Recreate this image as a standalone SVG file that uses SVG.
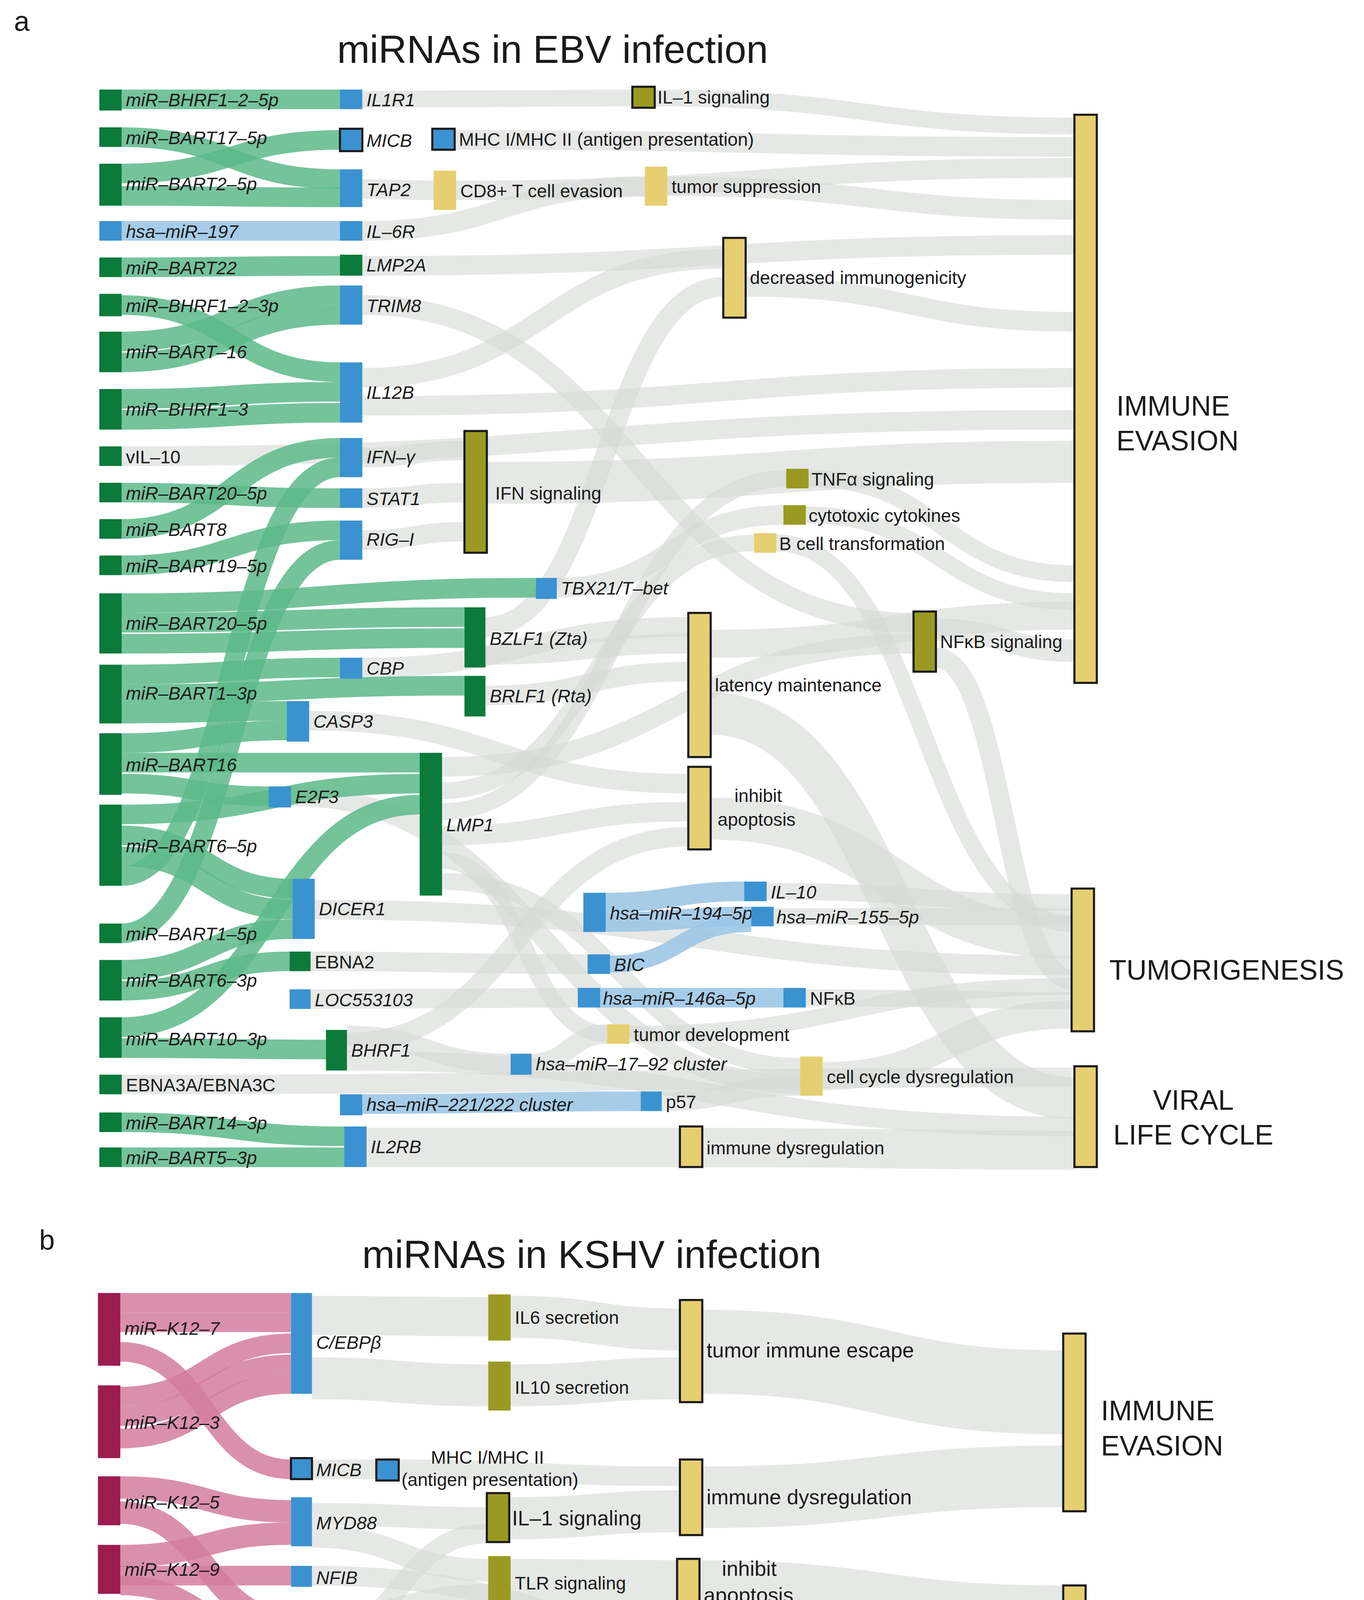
<svg xmlns="http://www.w3.org/2000/svg" width="3491" height="5635" viewBox="0 0 3491 5635">
<style>
text{font-family:"Liberation Sans",Arial,sans-serif;fill:#1a1a1a}
.t{font-size:13px;font-style:italic}
.n{font-size:13px}
.f{font-size:20px}
.h{font-size:28px}
.lg{font-size:16px}
path{fill:none}
.g{stroke:#d5d8d5;stroke-opacity:.6}
.e{stroke:#5cb88a;stroke-opacity:.85}
.k{stroke:#d47c9e;stroke-opacity:.85}
.b{stroke:#9cc6e6;stroke-opacity:.9}
.EG{fill:#0b7a3b}.KG{fill:#9c1c50}.HG{fill:#3b92d0}.SP{fill:#9a9a22}.PH{fill:#e6cf70}
.s{stroke:#1a1a1a;stroke-width:1.5}
</style>
<rect width="3491" height="5635" fill="#fff"/>
<g transform="scale(3.5805,3.5823)">
<text x="10" y="22" class="f">a</text>
<text x="395" y="45" class="h" text-anchor="middle">miRNAs in EBV infection</text>
<g id="links-a">
<path class="g" stroke-width="12" d="M259 71C355 71 355 70 452 70"/>
<path class="g" stroke-width="12" d="M468 70C618 70 618 90 768 90"/>
<path class="g" stroke-width="14" d="M325 100C546 100 546 105 768 105"/>
<path class="g" stroke-width="14" d="M259 135C285 135 285 136 310 136"/>
<path class="g" stroke-width="14" d="M326 136C547 136 547 120 768 120"/>
<path class="g" stroke-width="14" d="M259 165C360 165 360 133 461 133"/>
<path class="g" stroke-width="14" d="M477 133C622 133 622 150 768 150"/>
<path class="g" stroke-width="14" d="M259 190C513 190 513 175 768 175"/>
<path class="g" stroke-width="14" d="M259 218C456 218 456 445 653 445"/>
<path class="g" stroke-width="14" d="M259 270C388 270 388 185 517 185"/>
<path class="g" stroke-width="14" d="M259 290C513 290 513 270 768 270"/>
<path class="g" stroke-width="14" d="M87 326C428 326 428 300 768 300"/>
<path class="g" stroke-width="14" d="M259 327C296 327 296 322 332 322"/>
<path class="g" stroke-width="14" d="M259 356C296 356 296 352 332 352"/>
<path class="g" stroke-width="14" d="M259 386C296 386 296 380 332 380"/>
<path class="g" stroke-width="30" d="M348 345C558 345 558 330 768 330"/>
<path class="g" stroke-width="14" d="M398 420C479 420 479 368 560 368"/>
<path class="g" stroke-width="12" d="M578 342C673 342 673 410 768 410"/>
<path class="g" stroke-width="12" d="M576 368C672 368 672 430 768 430"/>
<path class="g" stroke-width="12" d="M555 388C660 388 660 660 766 660"/>
<path class="g" stroke-width="14" d="M347 448C432 448 432 205 517 205"/>
<path class="g" stroke-width="14" d="M533 205C650 205 650 230 768 230"/>
<path class="g" stroke-width="14" d="M347 468C420 468 420 460 492 460"/>
<path class="g" stroke-width="14" d="M259 477C375 477 375 448 492 448"/>
<path class="g" stroke-width="14" d="M347 497C420 497 420 480 492 480"/>
<path class="g" stroke-width="14" d="M316 548C485 548 485 460 653 460"/>
<path class="g" stroke-width="12" d="M316 565C428 565 428 388 539 388"/>
<path class="g" stroke-width="12" d="M316 580C439 580 439 342 562 342"/>
<path class="g" stroke-width="14" d="M316 597C404 597 404 580 492 580"/>
<path class="g" stroke-width="12" d="M316 615C375 615 375 739 434 739"/>
<path class="g" stroke-width="12" d="M316 630C444 630 444 762 572 762"/>
<path class="g" stroke-width="16" d="M669 450C718 450 718 465 768 465"/>
<path class="g" stroke-width="14" d="M669 470C718 470 718 700 766 700"/>
<path class="g" stroke-width="30" d="M508 510C638 510 638 785 768 785"/>
<path class="g" stroke-width="20" d="M508 460C638 460 638 440 768 440"/>
<path class="g" stroke-width="30" d="M508 585C637 585 637 670 766 670"/>
<path class="g" stroke-width="14" d="M221 515C356 515 356 560 492 560"/>
<path class="g" stroke-width="14" d="M208 569C390 569 390 775 572 775"/>
<path class="g" stroke-width="14" d="M225 650C496 650 496 690 766 690"/>
<path class="g" stroke-width="14" d="M222 687C321 687 321 689 420 689"/>
<path class="g" stroke-width="14" d="M222 714C318 714 318 713 413 713"/>
<path class="g" stroke-width="14" d="M248 745C370 745 370 598 492 598"/>
<path class="g" stroke-width="14" d="M248 758C508 758 508 805 768 805"/>
<path class="g" stroke-width="14" d="M248 740C306 740 306 760 365 760"/>
<path class="g" stroke-width="14" d="M380 760C407 760 407 739 434 739"/>
<path class="g" stroke-width="28" d="M262 820C374 820 374 820 486 820"/>
<path class="g" stroke-width="28" d="M502 820C635 820 635 822 768 822"/>
<path class="g" stroke-width="12" d="M548 637C657 637 657 645 766 645"/>
<path class="g" stroke-width="12" d="M553 655C660 655 660 655 766 655"/>
<path class="g" stroke-width="12" d="M576 713C671 713 671 715 766 715"/>
<path class="g" stroke-width="14" d="M473 787C522 787 522 776 572 776"/>
<path class="g" stroke-width="20" d="M588 769C677 769 677 725 766 725"/>
<path class="g" stroke-width="12" d="M450 739C608 739 608 705 766 705"/>
<path class="g" stroke-width="14" d="M87 775C426 775 426 770 766 770"/>
<path class="e" stroke-width="14" d="M87 71H243"/>
<path class="e" stroke-width="14" d="M87 98C165 98 165 128 243 128"/>
<path class="e" stroke-width="14" d="M87 124C165 124 165 100 243 100"/>
<path class="e" stroke-width="14" d="M87 140C165 140 165 141 243 141"/>
<path class="b" stroke-width="14" d="M87 165H243"/>
<path class="e" stroke-width="14" d="M87 191C165 191 165 190 243 190"/>
<path class="e" stroke-width="14" d="M87 218C165 218 165 266 243 266"/>
<path class="e" stroke-width="14" d="M87 244C165 244 165 211 243 211"/>
<path class="e" stroke-width="14" d="M87 259C165 259 165 225 243 225"/>
<path class="e" stroke-width="14" d="M87 285C165 285 165 280 243 280"/>
<path class="e" stroke-width="14" d="M87 300C165 300 165 295 243 295"/>
<path class="e" stroke-width="14" d="M87 352C165 352 165 356 243 356"/>
<path class="e" stroke-width="14" d="M87 378C165 378 165 320 243 320"/>
<path class="e" stroke-width="14" d="M87 404C165 404 165 379 243 379"/>
<path class="e" stroke-width="14" d="M87 431C235 431 235 420 383 420"/>
<path class="e" stroke-width="14" d="M87 445C210 445 210 441 332 441"/>
<path class="e" stroke-width="14" d="M87 460C210 460 210 456 332 456"/>
<path class="e" stroke-width="14" d="M87 482C165 482 165 477 243 477"/>
<path class="e" stroke-width="14" d="M87 496C210 496 210 490 332 490"/>
<path class="e" stroke-width="14" d="M87 510C146 510 146 508 205 508"/>
<path class="e" stroke-width="14" d="M87 531C146 531 146 522 205 522"/>
<path class="e" stroke-width="14" d="M87 545C194 545 194 545 300 545"/>
<path class="e" stroke-width="14" d="M87 560C140 560 140 569 192 569"/>
<path class="e" stroke-width="14" d="M87 582C194 582 194 560 300 560"/>
<path class="e" stroke-width="14" d="M87 597C148 597 148 635 209 635"/>
<path class="e" stroke-width="14" d="M87 612C148 612 148 650 209 650"/>
<path class="e" stroke-width="14" d="M87 626C165 626 165 334 243 334"/>
<path class="e" stroke-width="14" d="M87 667C165 667 165 393 243 393"/>
<path class="e" stroke-width="14" d="M87 693C148 693 148 664 209 664"/>
<path class="e" stroke-width="14" d="M87 708C147 708 147 687 207 687"/>
<path class="e" stroke-width="14" d="M87 734C194 734 194 575 300 575"/>
<path class="e" stroke-width="14" d="M87 749C160 749 160 750 233 750"/>
<path class="e" stroke-width="14" d="M87 802C166 802 166 812 246 812"/>
<path class="e" stroke-width="14" d="M87 827C166 827 166 827 246 827"/>
<path class="b" stroke-width="14" d="M259 789C358 789 358 787 458 787"/>
<path class="b" stroke-width="14" d="M433 645C482 645 482 637 532 637"/>
<path class="b" stroke-width="14" d="M433 659C485 659 485 655 537 655"/>
<path class="b" stroke-width="12" d="M436 689C486 689 486 660 537 660"/>
<path class="b" stroke-width="14" d="M429 713C494 713 494 713 560 713"/>
</g>
<g id="nodes-a">
<g id="a1"><rect class="EG" x="71" y="64" width="16" height="15"/><text class="t" x="90" y="76">miR–BHRF1–2–5p</text></g>
<g id="a2"><rect class="EG" x="71" y="91" width="16" height="14"/><text class="t" x="90" y="103">miR–BART17–5p</text></g>
<g id="a3"><rect class="EG" x="71" y="117" width="16" height="30"/><text class="t" x="90" y="136">miR–BART2–5p</text></g>
<g id="a4"><rect class="HG" x="71" y="158" width="16" height="14"/><text class="t" x="90" y="170">hsa–miR–197</text></g>
<g id="a5"><rect class="EG" x="71" y="184" width="16" height="14"/><text class="t" x="90" y="196">miR–BART22</text></g>
<g id="a6"><rect class="EG" x="71" y="210" width="16" height="16"/><text class="t" x="90" y="223">miR–BHRF1–2–3p</text></g>
<g id="a7"><rect class="EG" x="71" y="237" width="16" height="29"/><text class="t" x="90" y="256">miR–BART–16</text></g>
<g id="a8"><rect class="EG" x="71" y="278" width="16" height="29"/><text class="t" x="90" y="297">miR–BHRF1–3</text></g>
<g id="a9"><rect class="EG" x="71" y="319" width="16" height="14"/><text class="n" x="90" y="331">vIL–10</text></g>
<g id="a10"><rect class="EG" x="71" y="345" width="16" height="14"/><text class="t" x="90" y="357">miR–BART20–5p</text></g>
<g id="a11"><rect class="EG" x="71" y="371" width="16" height="14"/><text class="t" x="90" y="383">miR–BART8</text></g>
<g id="a12"><rect class="EG" x="71" y="397" width="16" height="14"/><text class="t" x="90" y="409">miR–BART19–5p</text></g>
<g id="a13"><rect class="EG" x="71" y="424" width="16" height="43"/><text class="t" x="90" y="450">miR–BART20–5p</text></g>
<g id="a14"><rect class="EG" x="71" y="475" width="16" height="42"/><text class="t" x="90" y="500">miR–BART1–3p</text></g>
<g id="a15"><rect class="EG" x="71" y="524" width="16" height="44"/><text class="t" x="90" y="551">miR–BART16</text></g>
<g id="a16"><rect class="EG" x="71" y="575" width="16" height="58"/><text class="t" x="90" y="609">miR–BART6–5p</text></g>
<g id="a17"><rect class="EG" x="71" y="660" width="16" height="14"/><text class="t" x="90" y="672">miR–BART1–5p</text></g>
<g id="a18"><rect class="EG" x="71" y="686" width="16" height="29"/><text class="t" x="90" y="705">miR–BART6–3p</text></g>
<g id="a19"><rect class="EG" x="71" y="727" width="16" height="29"/><text class="t" x="90" y="747">miR–BART10–3p</text></g>
<g id="a20"><rect class="EG" x="71" y="768" width="16" height="14"/><text class="n" x="90" y="780">EBNA3A/EBNA3C</text></g>
<g id="a21"><rect class="EG" x="71" y="795" width="16" height="14"/><text class="t" x="90" y="807">miR–BART14–3p</text></g>
<g id="a22"><rect class="EG" x="71" y="820" width="16" height="14"/><text class="t" x="90" y="832">miR–BART5–3p</text></g>

<g id="IL1R1"><rect class="HG" x="243" y="64" width="16" height="14"/><text class="t" x="262" y="76">IL1R1</text></g>
<g id="MICBa"><rect class="HG s" x="243" y="92" width="16" height="16"/><text class="t" x="262" y="105">MICB</text></g>
<g id="TAP2"><rect class="HG" x="243" y="121" width="16" height="27"/><text class="t" x="262" y="140">TAP2</text></g>
<g id="IL6R"><rect class="HG" x="243" y="158" width="16" height="14"/><text class="t" x="262" y="170">IL–6R</text></g>
<g id="LMP2A"><rect class="EG" x="243" y="182" width="16" height="15"/><text class="t" x="262" y="194">LMP2A</text></g>
<g id="TRIM8"><rect class="HG" x="243" y="204" width="16" height="28"/><text class="t" x="262" y="223">TRIM8</text></g>
<g id="IL12B"><rect class="HG" x="243" y="259" width="16" height="43"/><text class="t" x="262" y="285">IL12B</text></g>
<g id="IFNg"><rect class="HG" x="243" y="313" width="16" height="28"/><text class="t" x="262" y="331">IFN–γ</text></g>
<g id="STAT1"><rect class="HG" x="243" y="349" width="16" height="14"/><text class="t" x="262" y="361">STAT1</text></g>
<g id="RIGI"><rect class="HG" x="243" y="372" width="16" height="28"/><text class="t" x="262" y="390">RIG–I</text></g>
<g id="TBX21"><rect class="HG" x="383" y="413" width="15" height="15"/><text class="t" x="401" y="425">TBX21/T–bet</text></g>
<g id="BZLF1"><rect class="EG" x="332" y="434" width="15" height="43"/><text class="t" x="350" y="461">BZLF1 (Zta)</text></g>
<g id="CBP"><rect class="HG" x="243" y="470" width="16" height="15"/><text class="t" x="262" y="482">CBP</text></g>
<g id="BRLF1"><rect class="EG" x="332" y="483" width="15" height="29"/><text class="t" x="350" y="502">BRLF1 (Rta)</text></g>
<g id="CASP3"><rect class="HG" x="205" y="501" width="16" height="29"/><text class="t" x="224" y="520">CASP3</text></g>
<g id="E2F3"><rect class="HG" x="192" y="562" width="16" height="15"/><text class="t" x="211" y="574">E2F3</text></g>
<g id="LMP1"><rect class="EG" x="300" y="538" width="16" height="102"/><text class="t" x="319" y="594">LMP1</text></g>
<g id="DICER1"><rect class="HG" x="209" y="628" width="16" height="43"/><text class="t" x="228" y="654">DICER1</text></g>
<g id="EBNA2"><rect class="EG" x="207" y="680" width="15" height="14"/><text class="n" x="225" y="692">EBNA2</text></g>
<g id="LOC"><rect class="HG" x="207" y="707" width="15" height="14"/><text class="t" x="225" y="719">LOC553103</text></g>
<g id="BHRF1"><rect class="EG" x="233" y="736" width="15" height="29"/><text class="t" x="251" y="755">BHRF1</text></g>
<g id="c221"><rect class="HG" x="243" y="782" width="16" height="15"/><text class="t" x="262" y="794">hsa–miR–221/222 cluster</text></g>
<g id="IL2RB"><rect class="HG" x="246" y="805" width="16" height="29"/><text class="t" x="265" y="824">IL2RB</text></g>
<g id="p57"><rect class="HG" x="458" y="780" width="15" height="14"/><text class="n" x="476" y="792">p57</text></g>
<g id="m1792"><rect class="HG" x="365" y="753" width="15" height="15"/><text class="t" x="383" y="765">hsa–miR–17–92 cluster</text></g>
<g id="m194"><rect class="HG" x="417" y="638" width="16" height="28"/><text class="t" x="436" y="657">hsa–miR–194–5p</text></g>
<g id="IL10"><rect class="HG" x="532" y="630" width="16" height="14"/><text class="t" x="551" y="642">IL–10</text></g>
<g id="m155"><rect class="HG" x="537" y="648" width="16" height="14"/><text class="t" x="555" y="660">hsa–miR–155–5p</text></g>
<g id="BIC"><rect class="HG" x="420" y="682" width="16" height="14"/><text class="t" x="439" y="694">BIC</text></g>
<g id="m146"><rect class="HG" x="413" y="706" width="16" height="14"/><text class="t" x="431" y="718">hsa–miR–146a–5p</text></g>
<g id="NFkB"><rect class="HG" x="560" y="706" width="16" height="14"/><text class="n" x="579" y="718">NFκB</text></g>
<g id="IL1s"><rect class="SP s" x="452" y="62" width="16" height="15"/><text class="n" x="470" y="74">IL–1 signaling</text></g>
<g id="MHCa"><rect class="HG s" x="309" y="92" width="16" height="15"/><text class="n" x="328" y="104">MHC I/MHC II (antigen presentation)</text></g>
<g id="CD8"><rect class="PH" x="310" y="122" width="16" height="28"/><text class="n" x="329" y="141">CD8+ T cell evasion</text></g>
<g id="tsup"><rect class="PH" x="461" y="119" width="16" height="28"/><text class="n" x="480" y="138">tumor suppression</text></g>
<g id="decimm"><rect class="PH s" x="517" y="170" width="16" height="57"/><text class="n" x="536" y="203">decreased immunogenicity</text></g>
<g id="IFNs"><rect class="SP s" x="332" y="308" width="16" height="87"/><text class="n" x="354" y="357">IFN signaling</text></g>
<g id="TNF"><rect class="SP" x="562" y="335" width="16" height="14"/><text class="n" x="580" y="347">TNFα signaling</text></g>
<g id="cyto"><rect class="SP" x="560" y="361" width="16" height="14"/><text class="n" x="578" y="373">cytotoxic cytokines</text></g>
<g id="Bcell"><rect class="PH" x="539" y="381" width="16" height="14"/><text class="n" x="557" y="393">B cell transformation</text></g>
<g id="NFkBs"><rect class="SP s" x="653" y="437" width="16" height="43"/><text class="n" x="672" y="463">NFκB signaling</text></g>
<g id="latm"><rect class="PH s" x="492" y="438" width="16" height="103"/><text class="n" x="511" y="494">latency maintenance</text></g>
<g id="inap"><rect class="PH s" x="492" y="548" width="16" height="59"/><text class="n" x="525" y="573">inhibit</text><text class="n" x="513" y="590">apoptosis</text></g>
<g id="tdev"><rect class="PH" x="434" y="732" width="16" height="14"/><text class="n" x="453" y="744">tumor development</text></g>
<g id="ccd"><rect class="PH" x="572" y="755" width="16" height="28"/><text class="n" x="591" y="774">cell cycle dysregulation</text></g>
<g id="imd"><rect class="PH s" x="486" y="805" width="16" height="29"/><text class="n" x="505" y="825">immune dysregulation</text></g>
<g id="IEa"><rect class="PH s" x="768" y="82" width="16" height="406"/><text class="f" x="798" y="297">IMMUNE</text><text class="f" x="798" y="322">EVASION</text></g>
<g id="TUa"><rect class="PH s" x="766" y="635" width="16" height="102"/><text class="f" x="793" y="700">TUMORIGENESIS</text></g>
<g id="VLa"><rect class="PH s" x="768" y="762" width="16" height="72"/><text class="f" x="853" y="793" text-anchor="middle">VIRAL</text><text class="f" x="853" y="818" text-anchor="middle">LIFE CYCLE</text></g>
</g>

<text x="28" y="893" class="f">b</text>
<text x="423" y="906" class="h" text-anchor="middle">miRNAs in KSHV infection</text>
<g id="links-b">
<path class="g" stroke-width="28" d="M223 940C286 940 286 941 349 941"/>
<path class="g" stroke-width="30" d="M223 985C286 985 286 990 349 990"/>
<path class="g" stroke-width="30" d="M365 941C426 941 426 950 486 950"/>
<path class="g" stroke-width="30" d="M365 990C426 990 426 985 486 985"/>
<path class="g" stroke-width="60" d="M502 966C631 966 631 995 760 995"/>
<path class="g" stroke-width="14" d="M223 1050C246 1050 246 1050 269 1050"/>
<path class="g" stroke-width="14" d="M285 1050C386 1050 386 1055 486 1055"/>
<path class="g" stroke-width="44" d="M502 1070C631 1070 631 1055 760 1055"/>
<path class="g" stroke-width="16" d="M223 1082C286 1082 286 1085 348 1085"/>
<path class="g" stroke-width="16" d="M223 1098C286 1098 286 1122 349 1122"/>
<path class="g" stroke-width="16" d="M223 1158C286 1158 286 1140 349 1140"/>
<path class="g" stroke-width="14" d="M223 1172C286 1172 286 1096 348 1096"/>
<path class="g" stroke-width="14" d="M223 1126C405 1126 405 1185 587 1185"/>
<path class="g" stroke-width="30" d="M364 1085C425 1085 425 1080 486 1080"/>
<path class="g" stroke-width="34" d="M365 1131C425 1131 425 1132 484 1132"/>
<path class="g" stroke-width="34" d="M500 1132C630 1132 630 1150 760 1150"/>
<path class="g" stroke-width="14" d="M364 1176C476 1176 476 1174 587 1174"/>
<path class="g" stroke-width="14" d="M362 1251C422 1251 422 1213 482 1213"/>
<path class="g" stroke-width="14" d="M497 1213C542 1213 542 1207 587 1207"/>
<path class="g" stroke-width="50" d="M603 1193C682 1193 682 1192 760 1192"/>
<path class="g" stroke-width="14" d="M86 1222C146 1222 146 1222 207 1222"/>
<path class="g" stroke-width="14" d="M86 1240C216 1240 216 1380 346 1380"/>
<path class="g" stroke-width="14" d="M222 1222C491 1222 491 1225 760 1225"/>
<path class="g" stroke-width="14" d="M84 1273C145 1273 145 1273 205 1273"/>
<path class="g" stroke-width="14" d="M221 1273C284 1273 284 1273 346 1273"/>
<path class="g" stroke-width="14" d="M362 1273C561 1273 561 1240 760 1240"/>
<path class="g" stroke-width="50" d="M362 1330C492 1330 492 1328 622 1328"/>
<path class="g" stroke-width="14" d="M223 1364C285 1364 285 1375 346 1375"/>
<path class="g" stroke-width="14" d="M223 1393C285 1393 285 1393 346 1393"/>
<path class="g" stroke-width="16" d="M362 1380C492 1380 492 1365 622 1365"/>
<path class="g" stroke-width="16" d="M362 1395C423 1395 423 1393 484 1393"/>
<path class="g" stroke-width="16" d="M500 1393C561 1393 561 1388 622 1388"/>
<path class="g" stroke-width="90" d="M638 1349C699 1349 699 1348 760 1348"/>
<path class="k" stroke-width="14" d="M86 931C147 931 147 931 208 931"/>
<path class="k" stroke-width="14" d="M86 945C147 945 147 945 208 945"/>
<path class="k" stroke-width="14" d="M86 966C147 966 147 1050 208 1050"/>
<path class="k" stroke-width="14" d="M86 998C147 998 147 960 208 960"/>
<path class="k" stroke-width="14" d="M86 1012C147 1012 147 975 208 975"/>
<path class="k" stroke-width="14" d="M86 1028C147 1028 147 989 208 989"/>
<path class="k" stroke-width="16" d="M86 1063C147 1063 147 1080 208 1080"/>
<path class="k" stroke-width="16" d="M86 1081C147 1081 147 1158 208 1158"/>
<path class="k" stroke-width="16" d="M86 1112C147 1112 147 1096 208 1096"/>
<path class="k" stroke-width="14" d="M86 1126C147 1126 147 1126 208 1126"/>
<path class="k" stroke-width="14" d="M86 1133C147 1133 147 1174 208 1174"/>
<path class="k" stroke-width="14" d="M86 1305C216 1305 216 1312 347 1312"/>
<path class="k" stroke-width="14" d="M86 1330C216 1330 216 1330 347 1330"/>
<path class="k" stroke-width="14" d="M86 1364H208"/>
<path class="k" stroke-width="14" d="M86 1393H208"/>
<path class="b" stroke-width="14" d="M222 1200C286 1200 286 1176 349 1176"/>
<path class="b" stroke-width="14" d="M223 1243C285 1243 285 1251 346 1251"/>
</g>
<g id="nodes-b">
<g id="K127"><rect class="KG" x="70" y="924" width="16" height="52"/><text class="t" x="89" y="954">miR–K12–7</text></g>
<g id="K123"><rect class="KG" x="70" y="990" width="16" height="52"/><text class="t" x="89" y="1021">miR–K12–3</text></g>
<g id="K125"><rect class="KG" x="70" y="1055" width="16" height="35"/><text class="t" x="89" y="1078">miR–K12–5</text></g>
<g id="K129"><rect class="KG" x="70" y="1104" width="16" height="35"/><text class="t" x="89" y="1126">miR–K12–9</text></g>
<g id="vFLIP"><rect class="KG" x="70" y="1213" width="16" height="35"/><text class="n" x="89" y="1235">vFLIP</text></g>
<g id="m101"><rect class="HG" x="69" y="1266" width="15" height="15"/><text class="t" x="87" y="1278">hsa–miR–101–3p</text></g>
<g id="K9"><rect class="KG" x="70" y="1298" width="16" height="15"/><text class="t" x="87" y="1310">miR–K9</text></g>
<g id="K1275"><rect class="KG" x="70" y="1322" width="16" height="15"/><text class="t" x="87" y="1334">miR–K12–7–5p</text></g>
<g id="K1211"><rect class="KG" x="70" y="1356" width="16" height="15"/><text class="t" x="87" y="1368">miR–K12–11</text></g>
<g id="K1"><rect class="KG" x="70" y="1385" width="16" height="15"/><text class="t" x="87" y="1397">miR–K1</text></g>
<g id="CEBP"><rect class="HG" x="208" y="924" width="15" height="72"/><text class="t" x="226" y="964">C/EBPβ</text></g>
<g id="MICBb"><rect class="HG s" x="208" y="1042" width="15" height="15"/><text class="t" x="226" y="1055">MICB</text></g>
<g id="MHCb"><rect class="HG s" x="269" y="1043" width="16" height="15"/><text class="n" x="308" y="1046">MHC I/MHC II</text><text class="n" x="287" y="1062">(antigen presentation)</text></g>
<g id="MYD88"><rect class="HG" x="208" y="1070" width="15" height="35"/><text class="t" x="226" y="1093">MYD88</text></g>
<g id="NFIB"><rect class="HG" x="208" y="1119" width="15" height="15"/><text class="t" x="226" y="1132">NFIB</text></g>
<g id="IRAK1"><rect class="HG" x="208" y="1148" width="15" height="35"/><text class="t" x="226" y="1171">IRAK1</text></g>
<g id="m221b"><rect class="HG" x="207" y="1193" width="15" height="15"/><text class="t" x="229" y="1205">hsa–miR–221/222–3p</text></g>
<g id="m146b"><rect class="HG" x="207" y="1215" width="15" height="15"/><text class="t" x="229" y="1227">hsa–miR–146a–5p</text></g>
<g id="m1792b"><rect class="HG" x="208" y="1235" width="15" height="15"/><text class="t" x="229" y="1249">hsa–miR–17–92</text></g>
<g id="IKKe"><rect class="HG" x="208" y="1357" width="15" height="15"/><text class="t" x="226" y="1369">IKKε</text></g>
<g id="IkBa"><rect class="HG" x="208" y="1386" width="15" height="15"/><text class="t" x="226" y="1398">IκBα</text></g>
<g id="CXCR4"><rect class="HG" x="349" y="1169" width="15" height="15"/><text class="t" x="368" y="1181">CXCR4</text></g>
<g id="SMAD2"><rect class="HG" x="346" y="1244" width="16" height="15"/><text class="t" x="365" y="1256">SMAD2</text></g>
<g id="ORF50"><rect class="KG" x="347" y="1302" width="15" height="55"/><text class="t" x="366" y="1334">ORF50 (Rta)</text></g>
<g id="IL6s"><rect class="SP" x="349" y="925" width="16" height="33"/><text class="n" x="368" y="946">IL6 secretion</text></g>
<g id="IL10s"><rect class="SP" x="349" y="973" width="16" height="35"/><text class="n" x="368" y="996">IL10 secretion</text></g>
<g id="IL1b"><rect class="SP s" x="348" y="1067" width="16" height="35"/><text class="n" x="366" y="1090" style="font-size:15px">IL–1 signaling</text></g>
<g id="TLR"><rect class="SP" x="349" y="1112" width="16" height="38"/><text class="n" x="368" y="1136">TLR signaling</text></g>
<g id="TGFb"><rect class="SP" x="482" y="1206" width="15" height="15"/><text class="n" x="500" y="1219">TGF–β</text><text class="n" x="500" y="1236">signaling</text></g>
<g id="PI3K"><rect class="SP s" x="205" y="1265" width="16" height="16"/><text class="n" x="224" y="1278" style="font-size:15px">PI3K/AKT</text><text class="n" x="222" y="1298" style="font-size:15px">signaling</text></g>
<g id="apop"><rect class="PH" x="346" y="1266" width="16" height="15"/><text class="n" x="364" y="1279">apoptosis</text></g>
<g id="NFkBb"><rect class="SP s" x="346" y="1367" width="16" height="36"/><text class="n" x="364" y="1390">NFκB signaling</text></g>
<g id="IFNb"><rect class="SP s" x="484" y="1385" width="16" height="17"/><text class="n" x="503" y="1398">IFN signaling</text></g>
<g id="tie"><rect class="PH s" x="486" y="929" width="16" height="73"/><text class="n" x="505" y="970" style="font-size:15px">tumor immune escape</text></g>
<g id="imdb"><rect class="PH s" x="486" y="1043" width="16" height="54"/><text class="n" x="505" y="1075" style="font-size:15px">immune dysregulation</text></g>
<g id="inapb"><rect class="PH s" x="484" y="1114" width="16" height="36"/><text class="n" x="516" y="1126" style="font-size:15px">inhibit</text><text class="n" x="503" y="1145" style="font-size:15px">apoptosis</text></g>
<g id="tdevb"><rect class="PH s" x="587" y="1166" width="16" height="54"/><text class="n" x="606" y="1196">tumor development</text></g>
<g id="latb"><rect class="PH s" x="622" y="1300" width="16" height="98"/><text class="n" x="682" y="1343" text-anchor="middle">latency</text><text class="n" x="682" y="1360" text-anchor="middle">maintenance</text></g>
<g id="IEb"><rect class="PH s" x="760" y="953" width="16" height="127"/><text class="f" x="787" y="1015">IMMUNE</text><text class="f" x="787" y="1040">EVASION</text></g>
<g id="TUb"><rect class="PH s" x="760" y="1133" width="16" height="116"/><text class="f" x="789" y="1199">TUMORIGENESIS</text></g>
<g id="VLb"><rect class="PH s" x="760" y="1303" width="16" height="90"/><text class="f" x="843" y="1345" text-anchor="middle">VIRAL</text><text class="f" x="843" y="1370" text-anchor="middle">LIFE CYCLE</text></g>
</g>
<g id="legend">
<rect x="52" y="1437" width="818" height="120" fill="none" stroke="#555" stroke-width="1.5" stroke-dasharray="12 8"/>
<rect class="EG" x="75" y="1458" width="20" height="20"/><text class="lg" x="100" y="1473">EBV gene</text>
<rect class="KG" x="75" y="1487" width="20" height="20"/><text class="lg" x="100" y="1502">KSHV gene</text>
<rect class="HG" x="75" y="1516" width="20" height="20"/><text class="lg" x="100" y="1531">Host gene</text>
<rect x="210" y="1458" width="20" height="20" fill="#6cc097"/><text class="lg" x="234" y="1473">EBV direct interaction (RNA–RNA/RNA–protein)</text>
<rect x="210" y="1487" width="20" height="20" fill="#d88aa8"/><text class="lg" x="234" y="1502">KSHV direct interaction (RNA–RNA/RNA–protein)</text>
<rect x="210" y="1516" width="20" height="20" fill="#a7cce6"/><text class="lg" x="234" y="1531">Host direct interaction (RNA–RNA/RNA–protein)</text>
<rect class="SP" x="624" y="1458" width="20" height="20"/><text class="lg" x="653" y="1473">Signaling pathway affected</text>
<rect class="PH" x="624" y="1487" width="20" height="20"/><text class="lg" x="651" y="1502">Phenotype</text>
<rect x="625" y="1517" width="20" height="20" fill="#fff" stroke="#333" stroke-width="3"/><text class="lg" x="650" y="1531">Common to EBV and KSHV</text>
</g>
</g>
</svg>
